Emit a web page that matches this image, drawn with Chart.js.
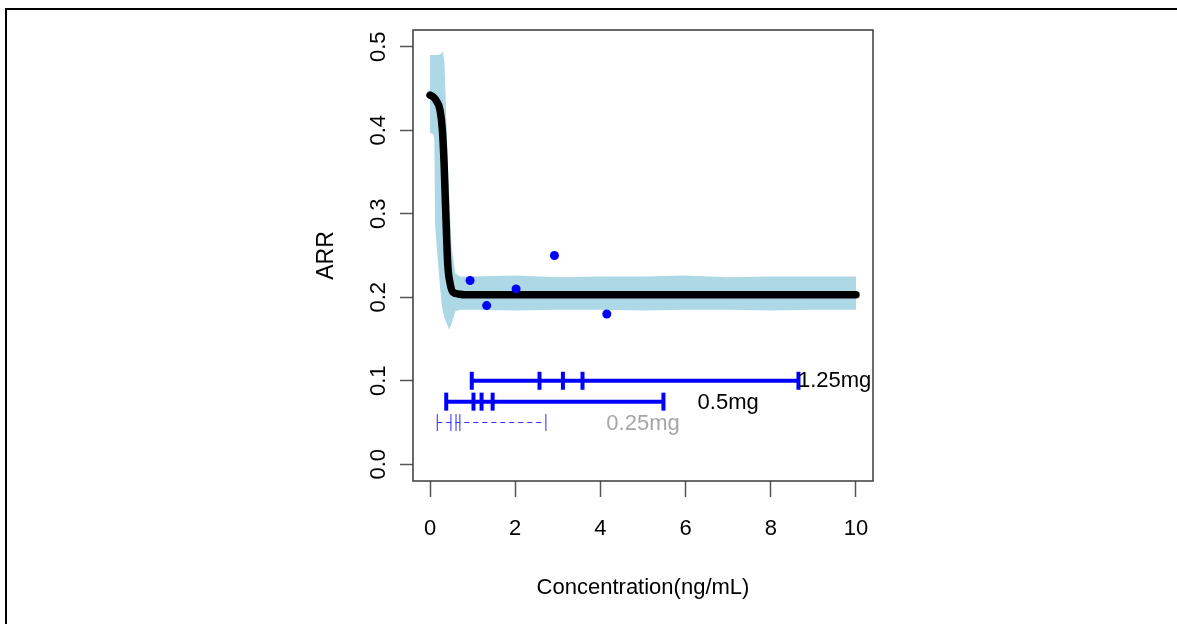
<!DOCTYPE html>
<html>
<head>
<meta charset="utf-8">
<script src="https://cdn.jsdelivr.net/npm/chart.js@4.4.1/dist/chart.umd.min.js"></script>
<style>
  body { margin: 0; background: #fff; }
  #wrap { position: relative; width: 1177px; height: 624px; }
  #frame { position: absolute; left: 5px; top: 8px; right: 0; bottom: 0;
           border-top: 2px solid #000; border-left: 2px solid #000; pointer-events: none; }
</style>
</head>
<body>
<div id="wrap">
  <canvas id="myChart" width="1177" height="624"></canvas>
  <div id="frame"></div>
</div>
<script>
// data
const xTicks = [0, 2, 4, 6, 8, 10];
const yTicks = [0, 0.1, 0.2, 0.3, 0.4, 0.5];

// confidence band
const bandX     = [0, 0.08, 0.1, 0.12, 0.2, 0.27, 0.3, 0.34, 0.39, 0.45, 0.51, 0.59, 0.7, 1, 2, 3, 4, 5, 6, 7, 8, 9, 10];
const bandUpper = [0.49, 0.49, 0.49, 0.49, 0.49, 0.492, 0.495, 0.48, 0.40, 0.32, 0.26, 0.229, 0.225, 0.225, 0.226, 0.224, 0.225, 0.225, 0.226, 0.224, 0.225, 0.225, 0.225];
const bandLower = [0.397, 0.395, 0.389, 0.285, 0.233, 0.193, 0.183, 0.175, 0.169, 0.161, 0.169, 0.183, 0.185, 0.185, 0.184, 0.185, 0.185, 0.184, 0.185, 0.185, 0.184, 0.185, 0.185];

// fitted curve
const curveX = [0, 0.07, 0.15, 0.235, 0.29, 0.33, 0.37, 0.415, 0.47, 0.54, 0.66, 0.8, 1, 2, 3, 4, 5, 6, 7, 8, 9, 10];
const curveY = [0.442, 0.44, 0.435, 0.424, 0.40, 0.36, 0.30, 0.24, 0.217, 0.206, 0.204, 0.203, 0.203, 0.203, 0.203, 0.203, 0.203, 0.203, 0.203, 0.203, 0.203, 0.203];

// observed points
const obsX = [0.94, 1.33, 2.02, 2.92, 4.15];
const obsY = [0.22, 0.19, 0.21, 0.25, 0.18];

// dose exposure ranges
const doseNames = ["1.25mg", "0.5mg", "0.25mg"];
const doseLevel = [0.1, 0.075, 0.05];
const dose125X = [0.98, 2.57, 3.12, 3.58, 8.65];
const dose05X  = [0.38, 1.02, 1.21, 1.47, 5.48];
const dose025X = [0.17, 0.49, 0.61, 0.70, 2.72];
const doseLabelX = [9.5, 7.0, 5.0];
const doseLabelY = [0.1, 0.073, 0.048];

const FONT = '"Liberation Sans", Arial, sans-serif';
Chart.defaults.font.family = FONT;
Chart.defaults.color = "#000";

function pts(xs, ys) {
  return xs.map((v, i) => ({ x: v, y: Array.isArray(ys) ? ys[i] : ys }));
}

const boxPlugin = {
  id: "box",
  afterDatasetsDraw(chart) {
    const { ctx, chartArea: a, scales: { x, y } } = chart;
    ctx.save();
    ctx.strokeStyle = "#3a3a3a";
    ctx.lineWidth = 1.5;
    ctx.strokeRect(a.left, a.top, a.right - a.left, a.bottom - a.top);
    ctx.font = "22px " + FONT;
    ctx.textAlign = "center";
    ctx.textBaseline = "middle";
    const labelColors = ["#000", "#000", "#a6a6a6"];
    doseNames.forEach((name, i) => {
      ctx.fillStyle = labelColors[i];
      ctx.fillText(name, x.getPixelForValue(doseLabelX[i]), y.getPixelForValue(doseLabelY[i]));
    });
    ctx.restore();
  },
};

const doseStyle = (xs, level, thick) => ({
  data: pts(xs, level),
  showLine: true,
  borderColor: thick ? "#0000ff" : "#2a2aff",
  borderWidth: thick ? 4 : 1,
  borderDash: thick ? [] : [5, 4],
  pointStyle: "line",
  rotation: 90,
  pointRadius: thick ? 9 : 8.5,
  pointBorderWidth: thick ? 4 : 1,
  pointBorderColor: thick ? "#0000ff" : "#2a2aff",
  order: 3,
});

const ctx = document.getElementById("myChart").getContext("2d");
new Chart(ctx, {
  type: "scatter",
  data: {
    datasets: [
      {
        label: "upper",
        data: pts(bandX, bandUpper),
        showLine: true,
        borderWidth: 0,
        pointRadius: 0,
        backgroundColor: "#add8e6",
        fill: "+1",
        order: 10,
      },
      {
        label: "lower",
        data: pts(bandX, bandLower),
        showLine: true,
        borderWidth: 0,
        pointRadius: 0,
        backgroundColor: "#add8e6",
        fill: false,
        order: 10,
      },
      {
        label: "curve",
        data: pts(curveX, curveY),
        showLine: true,
        borderColor: "#000",
        borderWidth: 7.5,
        borderCapStyle: "round",
        cubicInterpolationMode: "monotone",
        pointRadius: 0,
        order: 5,
      },
      doseStyle(dose125X, doseLevel[0], true),
      doseStyle(dose05X, doseLevel[1], true),
      doseStyle(dose025X, doseLevel[2], false),
      {
        label: "obs",
        data: pts(obsX, obsY),
        pointRadius: 4.5,
        pointBackgroundColor: "#0000ff",
        pointBorderWidth: 0,
        order: 0,
      },
    ],
  },
  options: {
    responsive: false,
    animation: false,
    layout: { padding: { left: 300, right: 304, top: 30, bottom: 10 } },
    plugins: { legend: { display: false }, tooltip: { enabled: false } },
    scales: {
      x: {
        type: "linear",
        min: -0.4,
        max: 10.4,
        afterBuildTicks: (s) => { s.ticks = xTicks.map((v) => ({ value: v })); },
        afterFit: (s) => { s.height = 133; },
        grid: { drawOnChartArea: false, tickLength: 16, tickColor: "#555", tickWidth: 1.5 },
        border: { display: false },
        ticks: { padding: 19, font: { size: 22 }, color: "#000", maxRotation: 0, callback: (v) => String(v) },
        title: { display: true, text: "Concentration(ng/mL)", font: { size: 22 }, padding: { top: 0, bottom: 13 } },
      },
      y: {
        type: "linear",
        min: -0.02,
        max: 0.52,
        afterBuildTicks: (s) => { s.ticks = yTicks.map((v) => ({ value: v })); },
        afterFit: (s) => { s.width = 113; },
        grid: { drawOnChartArea: false, tickLength: 13, tickColor: "#555", tickWidth: 1.5 },
        border: { display: false },
        ticks: { padding: 6, font: { size: 22 }, color: "#000", minRotation: 90, maxRotation: 90, crossAlign: "center",
                 callback: (v) => v.toFixed(1) },
        title: { display: true, text: "ARR", font: { size: 23 }, padding: { top: 13, bottom: 0 } },
      },
    },
  },
  plugins: [boxPlugin],
});
</script>
</body>
</html>
